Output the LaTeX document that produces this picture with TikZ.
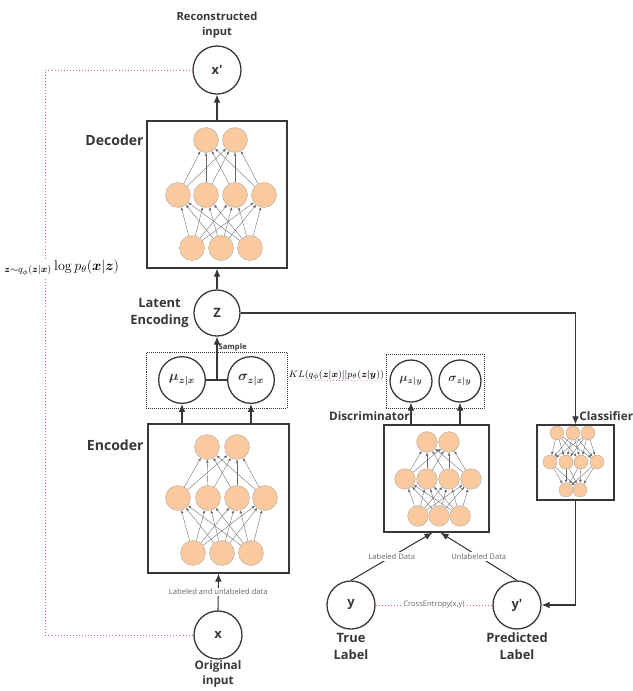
\documentclass[tikz,border=0pt]{standalone}
\usepackage{amsmath,amssymb,bm}
\usepackage[no-math]{fontspec}
\setmainfont{Open Sans}
\usepackage{tikz}
\usetikzlibrary{arrows.meta,positioning,calc}

\definecolor{neuronfill}{RGB}{250,201,158}
\definecolor{linegray}{RGB}{55,55,55}
\definecolor{lossred}{RGB}{226,96,96}

\tikzset{
  unit/.style={circle, draw=linegray, line width=1.1pt, fill=white, text=linegray,
    font=\bfseries\fontsize{11}{13}\selectfont, inner sep=0pt},
  neuron/.style={circle, draw=black!35, line width=0.3pt, fill=neuronfill, inner sep=0pt},
  netbox/.style={draw=linegray, line width=1.1pt, inner sep=0pt},
  probbox/.style={draw=black!80, densely dotted, line width=0.7pt, inner sep=0pt},
  flow/.style={draw=linegray, line width=0.9pt, -{Latex[length=2.4mm,width=2mm]}},
  nnedge/.style={draw=black!60, line width=0.3pt, -{Latex[length=0.9mm,width=0.8mm]}},
  loss/.style={draw=lossred, line width=0.6pt, dotted},
  tag/.style={text=linegray, align=center, inner sep=1pt},
  note/.style={font=\fontsize{6.5}{7.5}\selectfont, text=black!60, fill=white, inner sep=1pt},
}

\begin{document}
\begin{tikzpicture}[x=0.03cm, y=-0.03cm]
    \useasboundingbox (0,0) rectangle (632,691);

    % Decoder
    \node[tag, font=\bfseries\fontsize{9.5}{12.8}\selectfont] (reclabel) at (217,25) {Reconstructed\\input};
    \node[unit, minimum size=1.44cm] (xp) at (217,70) {x\textquotesingle};
    \node[netbox, minimum width=4.2cm, minimum height=4.41cm] (dec) at (217,194.5) {};
    \node[tag, anchor=east, font=\bfseries\fontsize{12}{14}\selectfont] (declabel) at (145,140) {Decoder};
    \foreach \x [count=\i] in {206,235}
        \node[neuron, minimum size=0.75cm] (dec-t\i) at (\x,140) {};
    \foreach \x [count=\i] in {178,206,235,264}
        \node[neuron, minimum size=0.75cm] (dec-m\i) at (\x,195) {};
    \foreach \x [count=\i] in {192,221,250}
        \node[neuron, minimum size=0.75cm] (dec-b\i) at (\x,248) {};
    \foreach \i in {1,2,3}
        \foreach \j in {1,...,4}
            \draw[nnedge] (dec-b\i) -- (dec-m\j);
    \foreach \i in {1,...,4}
        \foreach \j in {1,2}
            \draw[nnedge] (dec-m\i) -- (dec-t\j);
    \draw[flow] (dec.north) -- (xp.south);

    % Latent encoding
    \node[unit, minimum size=1.38cm] (z) at (217,313) {Z};
    \node[tag, anchor=east, font=\bfseries\fontsize{11}{14.5}\selectfont] (zlabel) at (190,313) {Latent\\Encoding};
    \draw[flow] (z.north) -- (dec.south);

    % q(z|x)
    \node[probbox, minimum width=4.23cm, minimum height=1.68cm] (qbox) at (216.5,380) {};
    \node[unit, minimum size=1.4cm, font=\large] (mux) at (182,380) {$\bm{\mu_{z|x}}$};
    \node[unit, minimum size=1.4cm, font=\large] (sigx) at (251,380) {$\bm{\sigma_{z|x}}$};
    \coordinate (split) at (217,380);
    \draw[draw=linegray, line width=0.9pt] (mux.east) -- (sigx.west);
    \draw[flow] (split) -- (z.south)
        node[pos=0.75, anchor=west, tag, font=\bfseries\fontsize{6.5}{7.5}\selectfont] {Sample};

    % Encoder
    \node[netbox, minimum width=4.23cm, minimum height=4.47cm] (enc) at (218.5,498.5) {};
    \node[tag, anchor=east, font=\bfseries\fontsize{12}{14}\selectfont] (enclabel) at (145,445) {Encoder};
    \foreach \x [count=\i] in {207,237}
        \node[neuron, minimum size=0.75cm] (enc-t\i) at (\x,447) {};
    \foreach \x [count=\i] in {178,208,237,265}
        \node[neuron, minimum size=0.75cm] (enc-m\i) at (\x,498) {};
    \foreach \x [count=\i] in {193,222,251}
        \node[neuron, minimum size=0.75cm] (enc-b\i) at (\x,553) {};
    \foreach \i in {1,2,3}
        \foreach \j in {1,...,4}
            \draw[nnedge] (enc-b\i) -- (enc-m\j);
    \foreach \i in {1,...,4}
        \foreach \j in {1,2}
            \draw[nnedge] (enc-m\i) -- (enc-t\j);
    \draw[flow] (mux |- enc.north) -- (mux.south);
    \draw[flow] (sigx |- enc.north) -- (sigx.south);

    % Input
    \node[unit, minimum size=1.44cm] (x) at (218,635) {x};
    \node[tag, font=\bfseries\fontsize{10}{13}\selectfont] (xlabel) at (218,674) {Original\\input};
    \draw[flow] (x.north) -- (enc.south)
        node[midway, note] {Labeled and unlabeled data};

    % Reconstruction term
    \coordinate (rtop) at (45,70);
    \coordinate (rbot) at (45,635);
    \draw[loss] (xp.west) -- (rtop) -- (rbot) -- (x.west);
    \node[anchor=west, fill=white, inner sep=1pt, font=\fontsize{11.5}{13}\selectfont] (reclik) at (3,268)
        {${}_{\bm{z}\sim q_\phi(\bm{z}|\bm{x})}\log p_\theta(\bm{x}|\bm{z})$};

    % Discriminator
    \node[probbox, minimum width=2.94cm, minimum height=1.62cm] (pbox) at (435,381) {};
    \node[unit, minimum size=1.26cm, font=\normalsize] (muy) at (411,381) {$\bm{\mu_{z|y}}$};
    \node[unit, minimum size=1.26cm, font=\normalsize] (sigy) at (460,381) {$\bm{\sigma_{z|y}}$};
    \draw[loss] (qbox.east) -- (pbox.west)
        node[midway, above=-1pt, inner sep=1pt, font=\fontsize{8}{9}\selectfont]
        {$KL(q_\phi(\bm{z}|\bm{x})||p_\theta(\bm{z}|\bm{y}))$};
    \node[netbox, minimum width=3.15cm, minimum height=3.21cm] (dis) at (436.5,478.5) {};
    \node[tag, anchor=east, font=\bfseries\fontsize{10}{12}\selectfont] (dislabel) at (411,416) {Discriminator};
    \foreach \x [count=\i] in {427,449}
        \node[neuron, minimum size=0.62cm] (dis-t\i) at (\x,442) {};
    \foreach \x [count=\i] in {405,427,449,471}
        \node[neuron, minimum size=0.62cm] (dis-m\i) at (\x,479) {};
    \foreach \x [count=\i] in {418,439,460}
        \node[neuron, minimum size=0.62cm] (dis-b\i) at (\x,516) {};
    \foreach \i in {1,2,3}
        \foreach \j in {1,...,4}
            \draw[nnedge] (dis-b\i) -- (dis-m\j);
    \foreach \i in {1,...,4}
        \foreach \j in {1,2}
            \draw[nnedge] (dis-m\i) -- (dis-t\j);
    \draw[flow] (muy |- dis.north) -- (muy.south);
    \draw[flow] (sigy |- dis.north) -- (sigy.south);

    % Classifier
    \node[netbox, minimum width=2.31cm, minimum height=2.25cm] (cls) at (575.5,462.5) {};
    \node[tag, anchor=west, font=\bfseries\fontsize{10}{12}\selectfont] (clslabel) at (578,416) {Classifier};
    \foreach \x [count=\i] in {557,573,588}
        \node[neuron, minimum size=0.42cm] (cls-t\i) at (\x,433) {};
    \foreach \x [count=\i] in {550,566,581,597}
        \node[neuron, minimum size=0.42cm] (cls-m\i) at (\x,462) {};
    \foreach \x [count=\i] in {566,580}
        \node[neuron, minimum size=0.42cm] (cls-b\i) at (\x,490) {};
    \foreach \i in {1,2,3}
        \foreach \j in {1,...,4}
            \draw[nnedge] (cls-t\i) -- (cls-m\j);
    \foreach \i in {1,...,4}
        \foreach \j in {1,2}
            \draw[nnedge] (cls-m\i) -- (cls-b\j);
    \draw[flow] (z.east) -| (cls.north);

    % Labels
    \node[unit, minimum size=1.44cm] (y) at (351,605) {y};
    \node[unit, minimum size=1.44cm] (yp) at (517,605) {y\textquotesingle};
    \node[tag, font=\bfseries\fontsize{11}{14.5}\selectfont] (ylabel) at (351,646) {True\\Label};
    \node[tag, font=\bfseries\fontsize{11}{14.5}\selectfont] (yplabel) at (517,646) {Predicted\\Label};
    \draw[flow] (y.north) -- ([xshift=-0.12cm]dis.south)
        node[midway, note] {Labeled Data};
    \draw[flow] (yp.north) -- ([xshift=0.12cm]dis.south)
        node[midway, note] {Unlabeled Data};
    \draw[loss] (y.east) -- (yp.west)
        node[midway, note] {CrossEntropy(x,y)};
    \draw[flow] (cls.south) |- (yp.east);
\end{tikzpicture}
\end{document}
